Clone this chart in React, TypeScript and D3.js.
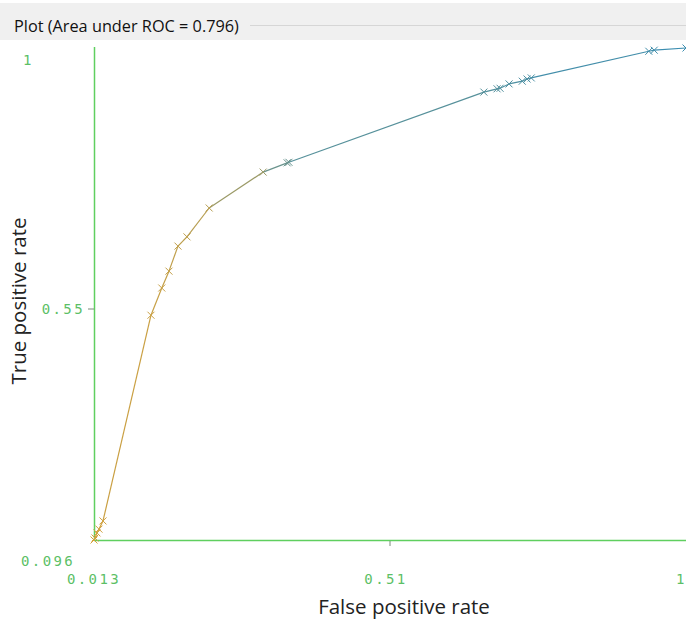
import React from "react";
import * as d3 from "d3";

// ROC curve points (false positive rate, true positive rate) and the threshold of each point
const fpr = [0.013, 0.0147, 0.018, 0.0213, 0.028, 0.108, 0.126, 0.138, 0.153, 0.168, 0.205, 0.295, 0.335, 0.338, 0.663, 0.685, 0.69, 0.705, 0.727, 0.735, 0.742, 0.938, 0.947, 1.0];
const tpr = [0.096, 0.0997, 0.109, 0.116, 0.131, 0.509, 0.559, 0.59, 0.636, 0.653, 0.706, 0.772, 0.789, 0.79, 0.919, 0.925, 0.926, 0.934, 0.939, 0.943, 0.945, 0.994, 0.996, 1.0];
const threshold = [1.0, 0.99, 0.98, 0.97, 0.96, 0.92, 0.9, 0.88, 0.86, 0.84, 0.8, 0.62, 0.3, 0.28, 0.18, 0.16, 0.15, 0.13, 0.12, 0.11, 0.1, 0.05, 0.04, 0.0];

const titleText = "Plot (Area under ROC = 0.796)";
const xTickLabels = ["0.013", "0.51", "1"];
const yTickLabels = ["1", "0.55", "0.096"];
const xTitle = "False positive rate";
const yTitle = "True positive rate";

const W = 686;
const H = 622;
const axisColor = "#5fcf5f";
const tickTextColor = "#5cbf66";

export default function App() {
  const x = d3.scaleLinear().domain([0.013, 1]).range([94, 686]);
  const y = d3.scaleLinear().domain([0.096, 1]).range([540, 48]);
  const color = d3
    .scaleLinear<string>()
    .domain([0, 1])
    .range(["#3b8db0", "#d6a23a"])
    .interpolate(d3.interpolateRgb);

  const pts = fpr.map((f, i) => ({ x: x(f), y: y(tpr[i]), c: color(threshold[i]) }));
  const xMid = (0.013 + 1) / 2;
  const yMidPos = (y(0.096) + y(1)) / 2 + 15;
  const m = 3.5;
  const mono = "'DejaVu Sans Mono', monospace";
  const sans = "'Open Sans', 'DejaVu Sans', sans-serif";

  return (
    <svg
      width={W}
      height={H}
      style={{ position: "absolute", left: 0, top: 0, background: "#fff" }}
    >
      {/* title bar */}
      <rect x={0} y={3} width={W} height={37} fill="#f0f0f0" />
      <text x={14} y={32} fontFamily={sans} fontSize={16.3} fill="#111">
        {titleText}
      </text>
      <line x1={250} x2={W} y1={25.5} y2={25.5} stroke="#d6d6d6" />

      {/* axes */}
      <line x1={94.5} x2={94.5} y1={47} y2={541} stroke={axisColor} strokeWidth={1.5} />
      <line x1={94} x2={W} y1={540.5} y2={540.5} stroke={axisColor} strokeWidth={1.5} />
      <line x1={x(xMid)} x2={x(xMid)} y1={541} y2={546} stroke="#7a8a7a" strokeWidth={1} />
      <line x1={88} x2={94} y1={yMidPos} y2={yMidPos} stroke="#7a8a7a" strokeWidth={1} />

      {/* tick labels */}
      <g fontFamily={mono} fontSize={14} fill={tickTextColor} letterSpacing={2.4}>
        <text x={x(0.013)} y={584} textAnchor="middle">{xTickLabels[0]}</text>
        <text x={x(xMid) - 4} y={584} textAnchor="middle">{xTickLabels[1]}</text>
        <text x={676} y={584}>{xTickLabels[2]}</text>
        <text x={23} y={65}>{yTickLabels[0]}</text>
        <text x={85} y={314} textAnchor="end">{yTickLabels[1]}</text>
        <text x={21} y={566}>{yTickLabels[2]}</text>
      </g>

      {/* axis titles */}
      <text x={404} y={614} textAnchor="middle" fontFamily={sans} fontSize={20.5} fill="#222">
        {xTitle}
      </text>
      <text
        transform="translate(26,301) rotate(-90)"
        textAnchor="middle"
        fontFamily={sans}
        fontSize={20.5}
        fill="#222"
      >
        {yTitle}
      </text>

      {/* curve segments, each coloured by its end point's threshold */}
      {pts.slice(1).map((p, i) => (
        <line
          key={"s" + i}
          x1={pts[i].x}
          y1={pts[i].y}
          x2={p.x}
          y2={p.y}
          stroke={p.c}
          strokeWidth={1.2}
        />
      ))}

      {/* point markers */}
      {pts.map((p, i) => (
        <g key={"m" + i} stroke={p.c} strokeWidth={1}>
          <line x1={p.x - m} y1={p.y - m} x2={p.x + m} y2={p.y + m} />
          <line x1={p.x - m} y1={p.y + m} x2={p.x + m} y2={p.y - m} />
        </g>
      ))}
    </svg>
  );
}
